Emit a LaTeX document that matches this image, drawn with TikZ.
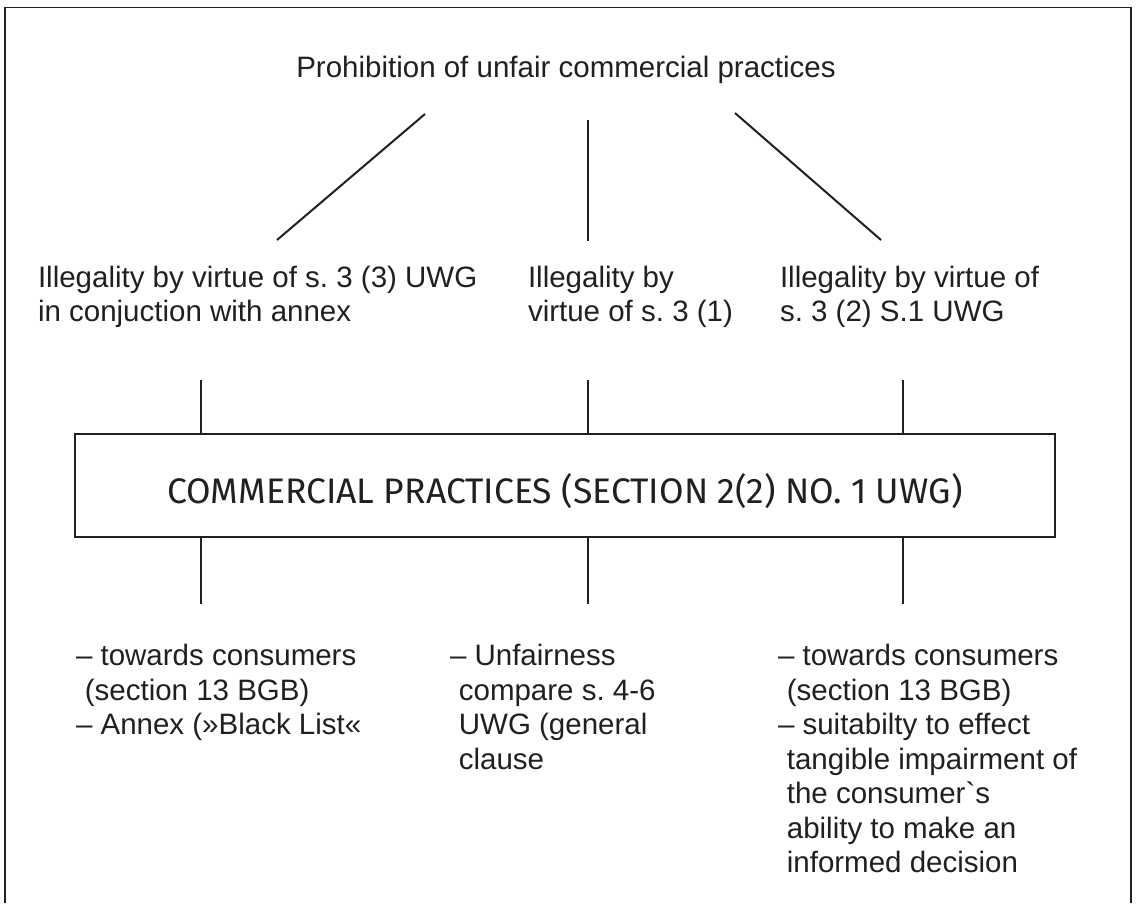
\documentclass[tikz,border=0pt]{standalone}
\usepackage{fontspec}
\setmainfont{Liberation Sans}
\newfontfamily\boxfont{Fira Sans}
\definecolor{ink}{HTML}{231F20}
\frenchspacing

\begin{document}
\begin{tikzpicture}[x=1pt, y=-1pt, line width=2pt, color=ink,
  txt/.style={inner sep=0pt, align=left, anchor=north west, text=ink,
              font=\fontsize{29.5}{34.5}\selectfont},
  link/.style={draw=ink, line width=2pt},
  practicebox/.style={draw=ink, line width=2pt, inner sep=0pt,
              minimum width=980pt, minimum height=103pt,
              text height=35pt, text depth=0pt,
              font=\boxfont\fontsize{35.5}{42}\selectfont}]
\useasboundingbox (0,0) rectangle (1141,903);
\fill[white] (0,0) rectangle (1141,903);

% open frame (no bottom edge)
\draw[line width=1.6pt] (5,903) -- (5,7.5) -- (1131,7.5) -- (1131,903);

% heading
\node[txt, anchor=base] (top) at (566,77) {Prohibition of unfair commercial practices};

% three grounds of illegality
\node[txt] (l2a) at (37,265) {Illegality by virtue of s. 3 (3) UWG\\in conjuction with annex};
\node[txt] (l2b) at (527,265) {Illegality by\\virtue of s. 3 (1)};
\node[txt] (l2c) at (779,265) {Illegality by virtue of\\s. 3 (2) S.1 UWG};

% central box
\node[practicebox] (cp) at (565,485.5) {COMMERCIAL PRACTICES (SECTION 2(2) NO. 1 UWG)};

% criteria
\node[txt] (b1) at (75,643.5) {– towards consumers\\\hspace*{0.3em}(section 13 BGB)\\– Annex (»Black List«};
\node[txt] (b2) at (449,643.5) {– Unfairness\\\hspace*{0.3em}compare s. 4-6\\\hspace*{0.3em}UWG (general\\\hspace*{0.3em}clause};
\node[txt] (b3) at (777,643.5) {– towards consumers\\\hspace*{0.3em}(section 13 BGB)\\– suitabilty to effect\\\hspace*{0.3em}tangible impairment of\\\hspace*{0.3em}the consumer\textasciigrave s\\\hspace*{0.3em}ability to make an\\\hspace*{0.3em}informed decision};

% branches below the heading
\coordinate (p1) at (425,114); \coordinate (q1) at (277,240);
\coordinate (p2) at (588,120); \coordinate (q2) at (588,241);
\coordinate (p3) at (735,113); \coordinate (q3) at (881,240);
\draw[link] (p1) -- (q1);
\draw[link] (p2) -- (q2);
\draw[link] (p3) -- (q3);

% stems above and below the box
\coordinate (u1) at (201,380); \coordinate (u2) at (588,380); \coordinate (u3) at (903,380);
\coordinate (d1) at (201,604); \coordinate (d2) at (588,604); \coordinate (d3) at (903,604);
\foreach \c in {1,2,3} {
  \draw[link] (cp.north -| u\c) -- (u\c);
  \draw[link] (cp.south -| d\c) -- (d\c);
}
\end{tikzpicture}
\end{document}
